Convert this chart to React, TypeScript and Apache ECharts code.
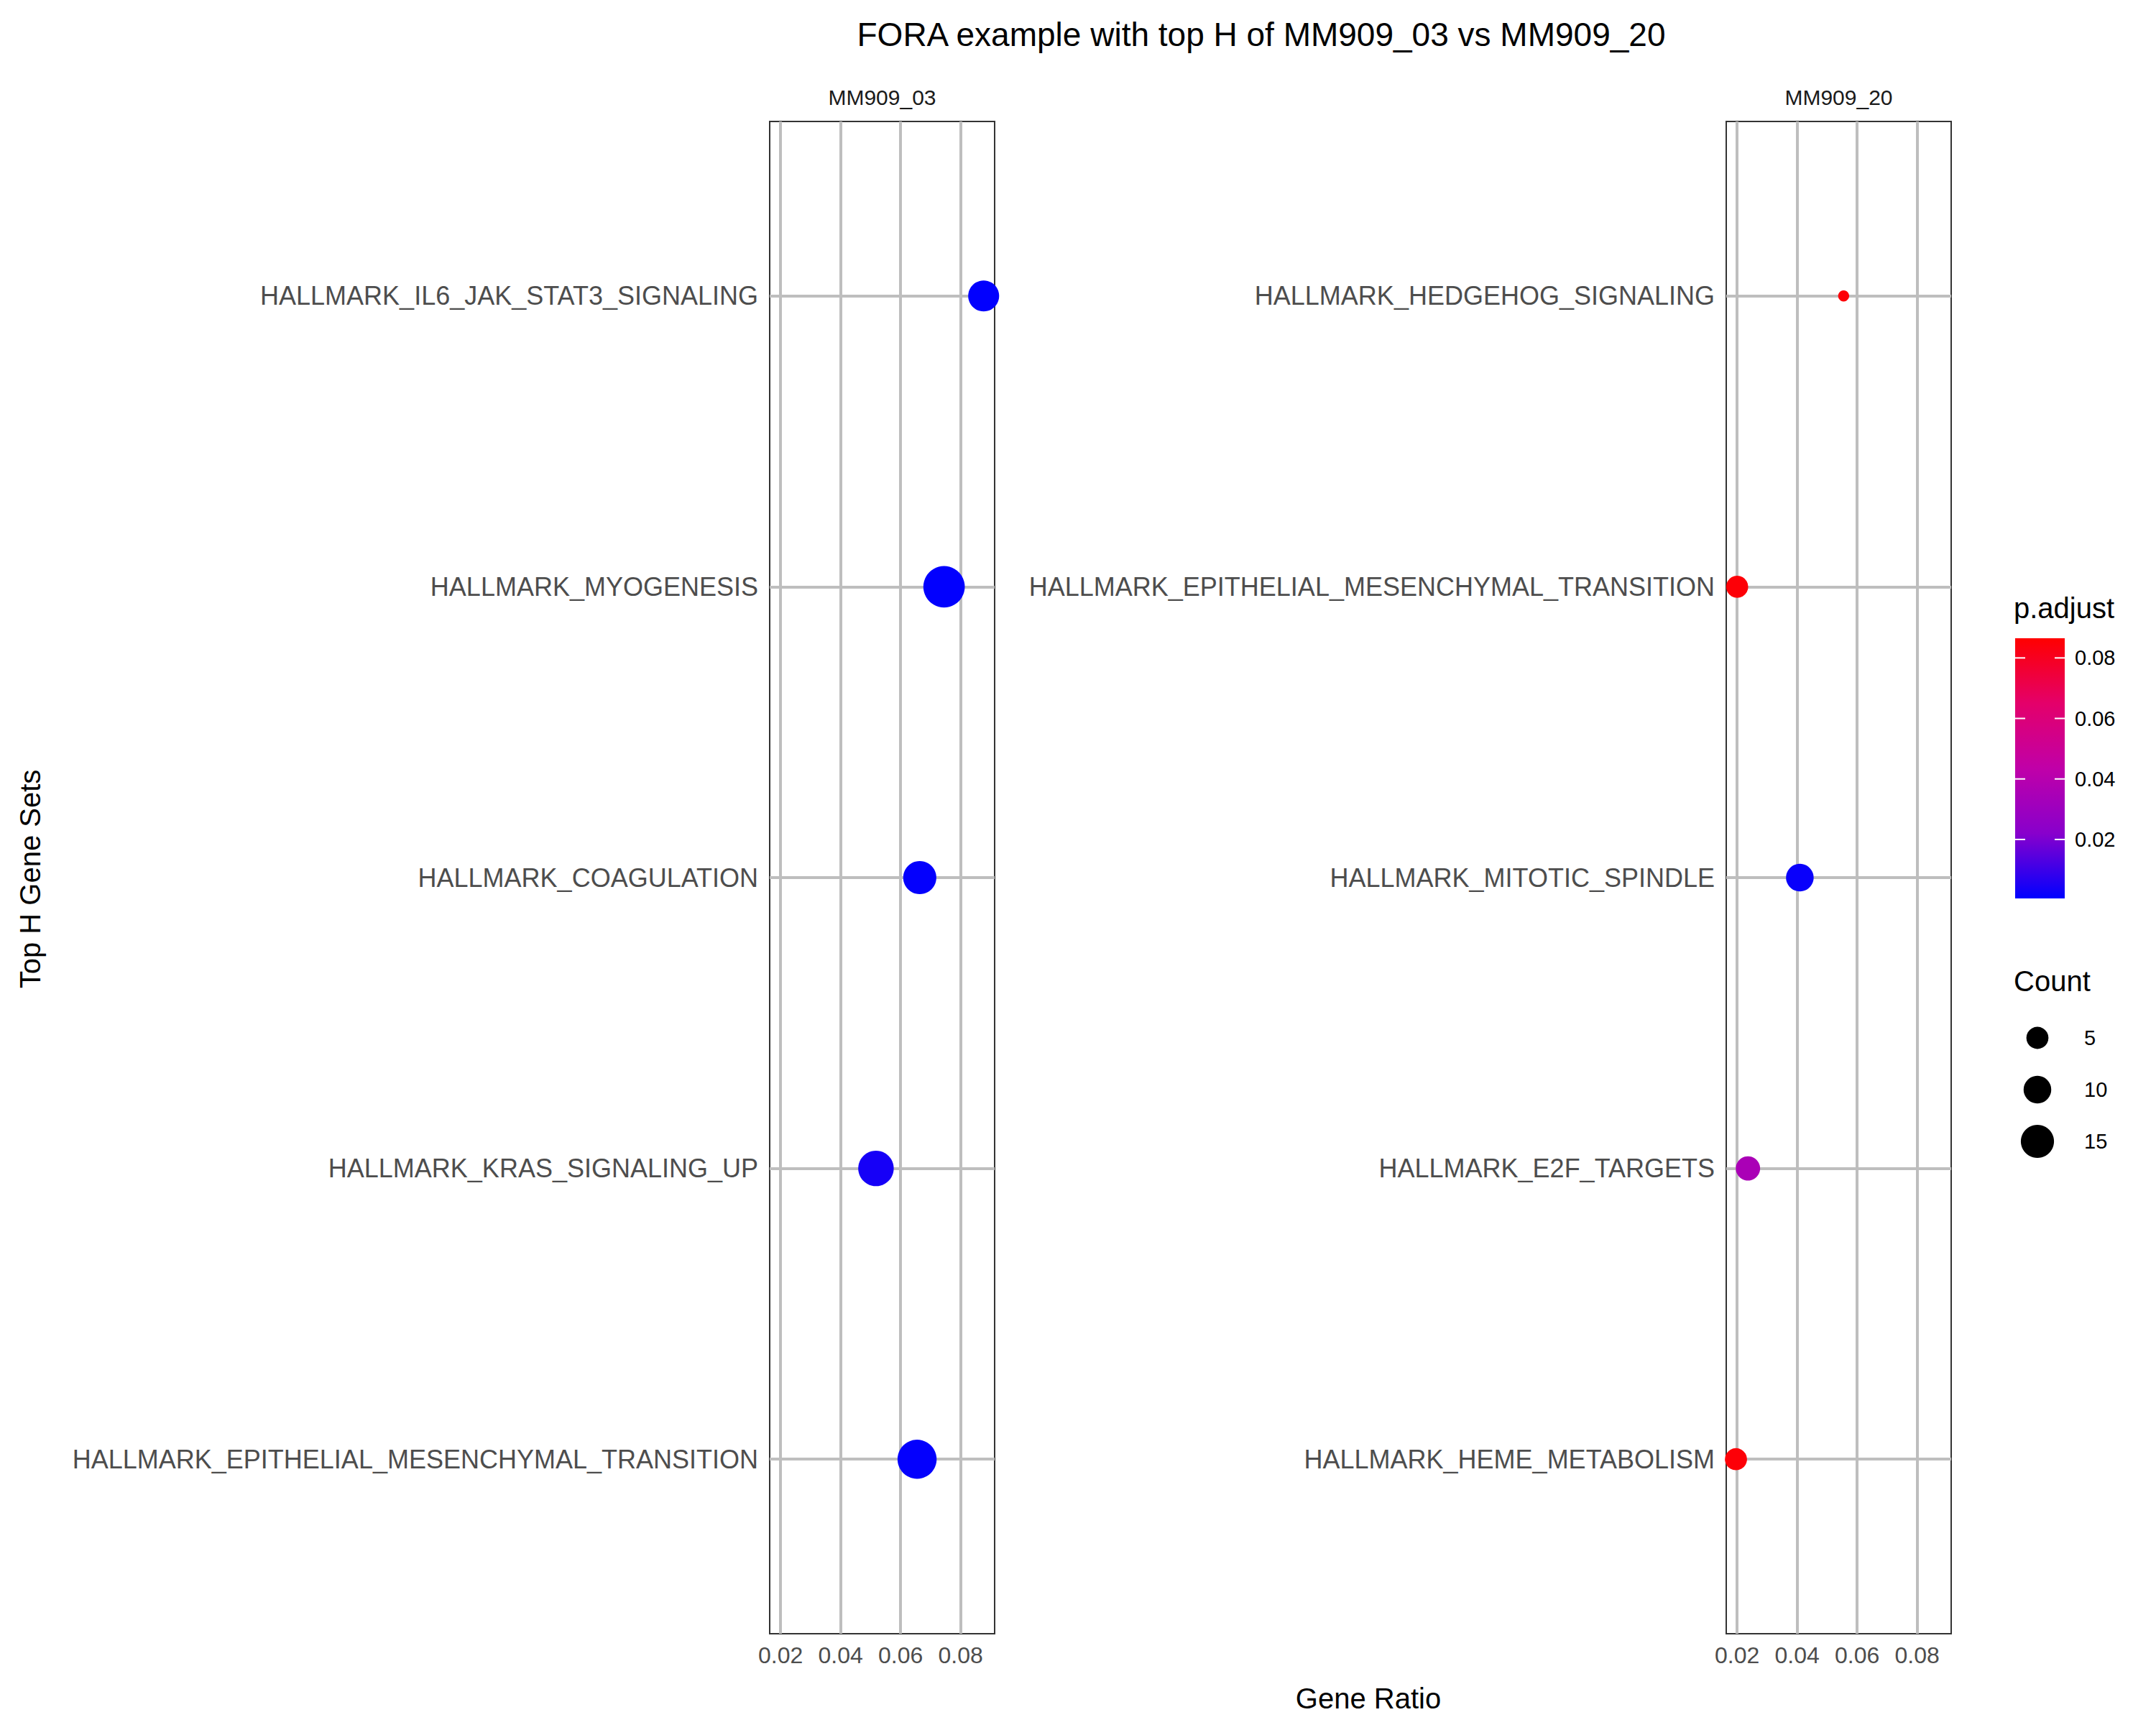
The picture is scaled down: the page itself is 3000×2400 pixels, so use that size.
import { useEffect, useRef } from "react";
import * as echarts from "echarts";

// bottom-to-top order, as in the picture
const leftSets = [
  "HALLMARK_EPITHELIAL_MESENCHYMAL_TRANSITION",
  "HALLMARK_KRAS_SIGNALING_UP",
  "HALLMARK_COAGULATION",
  "HALLMARK_MYOGENESIS",
  "HALLMARK_IL6_JAK_STAT3_SIGNALING",
];
const leftRatio = [0.0655, 0.0518, 0.0664, 0.0745, 0.0877];
const leftCount = [20, 17, 15, 22, 13];
const leftPadj = [0.0012, 0.004, 0.0012, 0.0008, 0.0008];

const rightSets = [
  "HALLMARK_HEME_METABOLISM",
  "HALLMARK_E2F_TARGETS",
  "HALLMARK_MITOTIC_SPINDLE",
  "HALLMARK_EPITHELIAL_MESENCHYMAL_TRANSITION",
  "HALLMARK_HEDGEHOG_SIGNALING",
];
const rightRatio = [0.0196, 0.0236, 0.0409, 0.02, 0.0555];
const rightCount = [5, 7, 10, 5, 1];
const rightPadj = [0.085, 0.035, 0.002, 0.085, 0.085];

const xTicks = [0.02, 0.04, 0.06, 0.08];
const padjTicks = [0.02, 0.04, 0.06, 0.08];
const countBreaks = [5, 10, 15];

const S = 1.923;
const X_MIN = 0.01636;
const X_MAX = 0.09136;
const P_MIN = 0.0005;
const P_MAX = 0.0865;
const SIZE_STOPS = [
  [1, 8],
  [5, 16],
  [10, 20],
  [15, 24],
  [22, 30],
];

function countSize(c: number) {
  for (let i = 1; i < SIZE_STOPS.length; i++) {
    const [c0, d0] = SIZE_STOPS[i - 1];
    const [c1, d1] = SIZE_STOPS[i];
    if (c <= c1) return (d0 + ((c - c0) / (c1 - c0)) * (d1 - d0)) * S;
  }
  return SIZE_STOPS[SIZE_STOPS.length - 1][1] * S;
}

const GRADIENT = ["#0000ff", "#8800cc", "#c000a8", "#e4006a", "#ff0000"];
const FONT = "Liberation Sans";

export default function App() {
  const ref = useRef<HTMLDivElement>(null);

  useEffect(() => {
    document.body.style.margin = "0";
    if (!ref.current) return undefined;
    const chart = echarts.init(ref.current, undefined, { renderer: "svg" });

    const top = 169;
    const height = 2104;
    const panels = [
      { left: 1071, sets: leftSets, ratio: leftRatio, count: leftCount, padj: leftPadj, strip: "MM909_03" },
      { left: 2402, sets: rightSets, ratio: rightRatio, count: rightCount, padj: rightPadj, strip: "MM909_20" },
    ];
    const width = 313;

    const grids = panels.map((p) => ({
      left: p.left,
      top,
      width,
      height,
      show: true,
      borderColor: "#333",
      borderWidth: 2,
      backgroundColor: "#fff",
    }));

    const xAxes = panels.map((_, i) => ({
      type: "value",
      gridIndex: i,
      min: X_MIN,
      max: X_MAX,
      axisLine: { show: false },
      axisTick: { show: false },
      splitLine: { show: false },
      axisLabel: {
        customValues: xTicks,
        color: "#4d4d4d",
        fontSize: 32,
        fontFamily: FONT,
        margin: 14,
        formatter: (v: number) => v.toFixed(2),
      },
    }));

    const yAxes = panels.map((p, i) => ({
      type: "value",
      gridIndex: i,
      min: 0.4,
      max: 5.6,
      axisLine: { show: false },
      axisTick: { show: false },
      splitLine: { show: false },
      axisLabel: {
        customValues: [1, 2, 3, 4, 5],
        color: "#4d4d4d",
        fontSize: 36,
        fontFamily: FONT,
        margin: 16,
        formatter: (v: number) => p.sets[Math.round(v) - 1] ?? "",
      },
    }));

    const lineStyle = { color: "#bebebe", width: 4, type: "solid" };
    const series: any[] = [];
    panels.forEach((p, i) => {
      series.push({
        type: "scatter",
        xAxisIndex: i,
        yAxisIndex: i,
        zlevel: 0,
        z: 1,
        data: [],
        silent: true,
        markLine: {
          silent: true,
          symbol: "none",
          label: { show: false },
          lineStyle,
          data: [
            ...xTicks.map((x) => ({ xAxis: x })),
            ...p.sets.map((_, k) => ({ yAxis: k + 1 })),
          ],
        },
      });
      series.push({
        type: "scatter",
        xAxisIndex: i,
        yAxisIndex: i,
        zlevel: 1,
        z: 3,
        data: p.sets.map((_, k) => [p.ratio[k], k + 1, p.padj[k], p.count[k]]),
        symbolSize: (d: number[]) => countSize(d[3]),
        itemStyle: { opacity: 1, borderWidth: 0 },
      });
    });

    // p.adjust gradient legend
    const barX = 2804;
    const barTop = 888;
    const barH = 362;
    const barW = 69;
    const pToY = (v: number) => barTop + barH - ((v - P_MIN) / (P_MAX - P_MIN)) * barH;
    const graphics: any[] = [
      {
        type: "rect",
        shape: { x: barX, y: barTop, width: barW, height: barH },
        style: {
          fill: new echarts.graphic.LinearGradient(
            0,
            1,
            0,
            0,
            GRADIENT.map((c, k) => ({ offset: k / (GRADIENT.length - 1), color: c }))
          ),
        },
      },
      ...padjTicks.flatMap((v) => [
        { type: "line", shape: { x1: barX, y1: pToY(v), x2: barX + 14, y2: pToY(v) }, style: { stroke: "#fff", lineWidth: 2 } },
        { type: "line", shape: { x1: barX + barW - 14, y1: pToY(v), x2: barX + barW, y2: pToY(v) }, style: { stroke: "#fff", lineWidth: 2 } },
        {
          type: "text",
          x: barX + barW + 14,
          y: pToY(v),
          style: { text: v.toFixed(2), fontSize: 29, fontFamily: FONT, fill: "#000", verticalAlign: "middle" },
        },
      ]),
      { type: "text", x: 2802, y: 846, style: { text: "p.adjust", fontSize: 40, fontFamily: FONT, fill: "#000", verticalAlign: "middle" } },
      { type: "text", x: 2802, y: 1365, style: { text: "Count", fontSize: 40, fontFamily: FONT, fill: "#000", verticalAlign: "middle" } },
      ...countBreaks.flatMap((c, k) => [
        {
          type: "circle",
          shape: { cx: 2835, cy: 1444 + k * 72, r: countSize(c) / 2 },
          style: { fill: "#000" },
        },
        {
          type: "text",
          x: 2900,
          y: 1444 + k * 72,
          style: { text: String(c), fontSize: 29, fontFamily: FONT, fill: "#000", verticalAlign: "middle" },
        },
      ]),
      ...panels.map((p) => ({
        type: "text",
        x: p.left + width / 2,
        y: 135,
        style: { text: p.strip, fontSize: 30, fontFamily: FONT, fill: "#1a1a1a", align: "center", verticalAlign: "middle" },
      })),
      {
        type: "text",
        x: 42,
        y: 1223,
        rotation: Math.PI / 2,
        style: { text: "Top H Gene Sets", fontSize: 40, fontFamily: FONT, fill: "#000", align: "center", verticalAlign: "middle" },
      },
      {
        type: "text",
        x: 1904,
        y: 2363,
        style: { text: "Gene Ratio", fontSize: 40, fontFamily: FONT, fill: "#000", align: "center", verticalAlign: "middle" },
      },
    ];

    chart.setOption({
      animation: false,
      backgroundColor: "#fff",
      title: {
        text: "FORA example with top H of MM909_03 vs MM909_20",
        left: 1750,
        top: 20,
        textAlign: "center",
        textStyle: { fontSize: 46, fontWeight: "normal", fontFamily: FONT, color: "#000" },
      },
      visualMap: {
        show: false,
        type: "continuous",
        dimension: 2,
        min: P_MIN,
        max: P_MAX,
        seriesIndex: [1, 3],
        inRange: { color: GRADIENT },
      },
      grid: grids,
      xAxis: xAxes,
      yAxis: yAxes,
      series,
      graphic: graphics,
    });

    return () => chart.dispose();
  }, []);

  return <div ref={ref} style={{ width: 3000, height: 2400 }} />;
}
